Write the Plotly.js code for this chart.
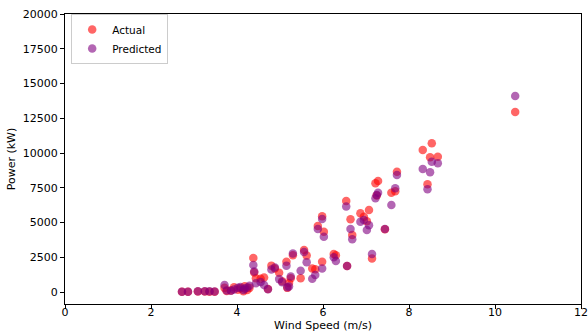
<!DOCTYPE html>
<html>
<head>
<meta charset="utf-8">
<script src="https://cdn.plot.ly/plotly-3.0.1.min.js"></script>
<style>html,body{margin:0;padding:0;background:#fff;}#chart{width:588px;height:333px;}</style>
</head>
<body>
<div id="chart"></div>
<script>
const windSpeed = [2.72,2.86,3.09,3.25,3.36,3.48,3.71,3.76,3.86,3.93,4.02,4.08,4.15,4.18,4.24,4.29,4.44,
  4.38,4.40,4.55,4.63,4.72,4.80,4.88,4.98,5.05,5.15,5.17,5.21,5.25,5.30,5.48,5.56,5.62,5.75,5.82,5.88,5.98,5.98,6.02,
  6.25,6.30,6.54,6.56,6.64,6.68,6.87,6.95,7.07,7.02,7.14,7.22,7.25,7.28,7.44,7.59,7.68,7.72,
  8.32,8.43,8.49,8.53,8.67,10.47];
const actualPower = [20,20,40,40,30,30,300,80,120,350,160,280,60,420,150,300,1000,
  2450,1400,950,1050,220,1900,1700,1380,780,2180,300,650,1000,2650,985,3020,2620,1700,1640,4750,5450,2180,4340,
  2730,2650,6550,1870,5230,4100,5660,5420,5900,5100,2420,7820,6950,7980,4510,7140,7250,8650,
  10220,7750,9690,10700,9730,12950];
const predictedPower = [30,30,60,60,50,40,500,120,90,180,300,360,150,250,320,450,630,
  1950,1480,720,500,200,1620,1760,930,700,1900,340,400,1120,2770,1530,2880,2150,950,1220,4530,5250,1700,3980,
  2500,2230,6150,1870,4530,3790,5060,5180,4800,4460,2730,6740,6980,7140,4530,6260,7460,8420,
  8850,7390,8610,9370,9260,14100];
const xTicks = [0,2,4,6,8,10,12];
const yTicks = [0,2500,5000,7500,10000,12500,15000,17500,20000];

const font = {family: 'DejaVu Sans, sans-serif', size: 11, color: '#000'};
const data = [
  {x: windSpeed, y: actualPower, name: 'Actual', type: 'scatter', mode: 'markers',
   marker: {color: 'red', opacity: 0.6, size: 8.5}},
  {x: windSpeed, y: predictedPower, name: 'Predicted', type: 'scatter', mode: 'markers',
   marker: {color: 'purple', opacity: 0.6, size: 8.5}}
];
const axisCommon = {showline: true, mirror: true, linecolor: '#000', linewidth: 1, ticks: 'outside',
  ticklen: 4, tickcolor: '#000', showgrid: false, zeroline: false, tickfont: font, automargin: false};
const layout = {
  width: 588, height: 333,
  margin: {l: 65, r: 7, t: 14, b: 29},
  paper_bgcolor: '#fff', plot_bgcolor: '#fff',
  font: font,
  showlegend: true,
  legend: {x: 0.012, y: 1.0, xanchor: 'left', yanchor: 'top', bgcolor: 'rgba(255,255,255,0.8)',
    bordercolor: '#cccccc', borderwidth: 1, font: {family: font.family, size: 10.5, color: '#000'},
    itemwidth: 30, tracegroupgap: 0},
  xaxis: Object.assign({}, axisCommon, {range: [0, 12], tickvals: xTicks, ticktext: xTicks.map(String),
    ticklabelstandoff: -6,
    title: {text: 'Wind Speed (m/s)', font: font, standoff: 0}}),
  yaxis: Object.assign({}, axisCommon, {range: [-860, 20000], tickvals: yTicks, ticktext: yTicks.map(String),
    title: {text: 'Power (kW)', font: font, standoff: 4}})
};
Plotly.newPlot('chart', data, layout, {displayModeBar: false, staticPlot: true});
</script>
</body>
</html>
